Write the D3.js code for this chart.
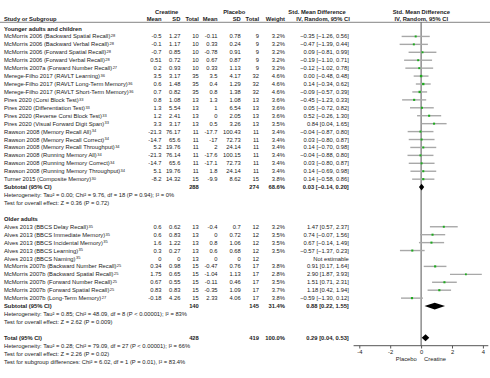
<!DOCTYPE html>
<html><head><meta charset="utf-8">
<script src="https://cdn.jsdelivr.net/npm/d3@7"></script>
<style>
html,body{margin:0;padding:0;background:#fff;}
svg{display:block;font-family:"Liberation Sans",Arial,sans-serif;}
</style></head>
<body><svg id="c" width="490" height="378"></svg>
<script>
// ---- data ----
const groupLabels = ["Younger adults and children", "Older adults"];
const studyNames = [
 "McMorris 2006 (Backward Spatial Recall)","McMorris 2006 (Backward Verbal Recall)","McMorris 2006 (Forward Spatial Recall)","McMorris 2006 (Forward Verbal Recall)",
 "McMorris 2007a (Forward Number Recall)","Merege-Filho 2017 (RAVLT Learning)","Merege-Filho 2017 (RAVLT Long-Term Memory)","Merege-Filho 2017 (RAVLT Short-Term Memory)",
 "Pires 2020 (Corsi Block Test)","Pires 2020 (Differentiation Test)","Pires 2020 (Reverse Corsi Block Test)","Pires 2020 (Visual Forward Digit Span)",
 "Rawson 2008 (Memory Recall All)","Rawson 2008 (Memory Recall Correct)","Rawson 2008 (Memory Recall Throughput)","Rawson 2008 (Running Memory All)",
 "Rawson 2008 (Running Memory Correct)","Rawson 2008 (Running Memory Throughput)","Turner 2015 (Composite Memory)",
 "Alves 2013 (BBCS Delay Recall)","Alves 2013 (BBCS Immediate Memory)","Alves 2013 (BBCS Incidental Memory)","Alves 2013 (BBCS Learning)","Alves 2013 (BBCS Naming)",
 "McMorris 2007b (Backward Number Recall)","McMorris 2007b (Backward Spatial Recall)","McMorris 2007b (Forward Number Recall)","McMorris 2007b (Forward Spatial Recall)","McMorris 2007b (Long-Term Memory)"
];
const refNums = ["28","28","28","28","27","36","36","36","33","33","33","33","34","34","34","34","34","34","30","35","35","35","35","35","25","25","25","25","27"];
const groupOf = [0,0,0,0,0,0,0,0,0,0,0,0,0,0,0,0,0,0,0,1,1,1,1,1,1,1,1,1,1];
const creMean = [-0.5,-0.1,-0.7,0.51,0.2,3.5,0.6,0.7,0.8,1.3,1.2,3.3,-21.3,-14.7,5.2,-21.3,-14.7,5.1,-8.2,0.6,0.6,1.6,0.3,0,0.34,1.75,0.67,0.83,-0.18];
const creSD   = [1.27,1.17,0.85,0.72,0.93,3.17,1.48,0.82,1.08,5.54,2.41,3.17,76.17,65.6,19.76,76.14,65.6,19.76,14.32,0.62,0.83,1.22,0.27,0,0.98,0.65,0.55,0.83,4.26];
const creN    = [10,10,10,10,10,35,35,35,13,13,13,13,11,11,11,11,11,11,15,13,13,13,13,13,15,15,15,15,15];
const plaMean = [-0.11,0.33,-0.78,0.67,0.33,3.5,0.4,0.8,1.3,1,0,0.5,-17.7,-17,2,-17.6,-17.1,1.8,-9.9,-0.4,0,0.8,0.6,0,-0.47,-1.04,-0.11,-0.35,2.33];
const plaSD   = [0.78,0.24,0.91,0.87,1.13,4.17,1.29,1.38,1.08,6.54,2.05,3.26,100.43,72.73,24.14,100.15,72.73,24.14,8.62,0.7,0.72,1.06,0.68,0,0.76,1.13,0.46,1.09,4.06];
const plaN    = [9,9,9,9,9,32,32,32,13,13,13,13,11,11,11,11,11,11,15,12,12,12,12,12,17,17,17,17,17];
const weightPct = [3.2,3.2,3.2,3.2,3.2,4.6,4.6,4.6,3.6,3.6,3.6,3.5,3.4,3.4,3.4,3.4,3.4,3.4,3.8,3.2,3.5,3.5,3.5,null,3.8,2.8,3.5,3.7,3.8];
const smd  = [-0.35,-0.47,0.09,-0.19,-0.12,0.00,0.14,-0.09,-0.45,0.05,0.52,0.84,-0.04,0.03,0.14,-0.04,0.03,0.14,0.14,1.47,0.74,0.67,-0.57,null,0.91,2.90,1.51,1.18,-0.59];
const ciLo = [-1.26,-1.39,-0.81,-1.10,-1.02,-0.48,-0.34,-0.57,-1.23,-0.72,-0.26,0.04,-0.87,-0.80,-0.70,-0.88,-0.80,-0.69,-0.58,0.57,-0.07,-0.14,-1.37,null,0.17,1.87,0.71,0.42,-1.30];
const ciHi = [0.56,0.44,0.99,0.71,0.78,0.48,0.62,0.39,0.33,0.82,1.30,1.65,0.80,0.87,0.98,0.80,0.87,0.98,0.86,2.37,1.56,1.49,0.23,null,1.64,3.93,2.31,1.94,0.12];
// subtotals (per group) and total
const subCreN = [288,140], subPlaN = [274,145], subWeight = [68.6,31.4];
const subSmd = [0.03,0.88], subLo = [-0.14,0.22], subHi = [0.20,1.55];
const subHet = ["Heterogeneity: Tau\u00b2 = 0.00; Chi\u00b2 = 9.76, df = 18 (P = 0.94); I\u00b2 = 0%",
                "Heterogeneity: Tau\u00b2 = 0.85; Chi\u00b2 = 48.09, df = 8 (P < 0.00001); I\u00b2 = 83%"];
const subTest = ["Test for overall effect: Z = 0.36 (P = 0.72)","Test for overall effect: Z = 2.62 (P = 0.009)"];
const totalVals = {creN:428, plaN:419, weight:100.0, smd:0.29, lo:0.04, hi:0.53};
const totalNotes = ["Heterogeneity: Tau\u00b2 = 0.28; Chi\u00b2 = 79.09, df = 27 (P < 0.00001); I\u00b2 = 66%",
  "Test for overall effect: Z = 2.26 (P = 0.02)",
  "Test for subgroup differences: Chi\u00b2 = 6.02, df = 1 (P = 0.01), I\u00b2 = 83.4%"];
const xTicks = [-4,-2,0,2,4];
const axisLabels = ["Placebo","Creatine"];

// ---- layout ----
const svg = d3.select("#c");
const FS = 5.8, SUP = 4.0, ink = "#222";
const x = d3.scaleLinear().domain([-4,4]).range([359.3,482.9]);
const y = d3.scaleLinear().domain([0,42]).range([28.5,28.5+42*7.93]);
const col = {name:4, cMean:161.5, cSD:180.4, cN:198.8, pMean:217.6, pSD:240.8, pN:259, w:285, ci:348.8};

function txt(xp, yp, s, anchor, bold){
  return svg.append("text").attr("x",xp).attr("y",yp).attr("dy","0.35em")
    .attr("font-size",FS).attr("fill",ink).attr("text-anchor",anchor||"start")
    .attr("font-weight",bold?"bold":"normal").text(s);
}
const fmt2 = d3.format(".2f");
const ciStr = (m,l,h)=> fmt2(m)+" ["+fmt2(l)+", "+fmt2(h)+"]";

// headers
txt(166.7,11.6,"Creatine","middle",true);
txt(234.3,11.6,"Placebo","middle",true);
txt(317,11.6,"Std. Mean Difference","middle",true);
txt(421.3,11.6,"Std. Mean Difference","middle",true);
txt(col.name,19,"Study or Subgroup","start",true);
txt(col.cMean,19,"Mean","end",true); txt(col.cSD,19,"SD","end",true); txt(col.cN,19,"Total","end",true);
txt(col.pMean,19,"Mean","end",true); txt(col.pSD,19,"SD","end",true); txt(col.pN,19,"Total","end",true);
txt(col.w,19,"Weight","end",true);
txt(323,19,"IV, Random, 95% CI","middle",true);
txt(421.3,19,"IV, Random, 95% CI","middle",true);
svg.append("line").attr("x1",0).attr("x2",490).attr("y1",22.3).attr("y2",22.3)
  .attr("stroke","#666").attr("stroke-width",0.8);

const groupStart = [0,24];
const axisY = 345.7;

// zero line
svg.append("line").attr("x1",x(0)).attr("x2",x(0)).attr("y1",22.3).attr("y2",axisY)
  .attr("stroke","#555").attr("stroke-width",1);

function diamond(r, m, l, h){
  const yc = y(r), hh = 3.4;
  svg.append("path").attr("fill","#000")
    .attr("d",`M${x(l)},${yc}L${x(m)},${yc-hh}L${x(h)},${yc}L${x(m)},${yc+hh}Z`);
}

[0,1].forEach(g=>{
  let r = groupStart[g];
  txt(col.name, y(r), groupLabels[g], "start", true);
  const idx = d3.range(studyNames.length).filter(i=>groupOf[i]===g);
  idx.forEach((i,k)=>{
    const rr = r+1+k, yy = y(rr);
    const t = txt(col.name, yy, studyNames[i]);
    t.append("tspan").attr("font-size",SUP).attr("dy","-0.3em").attr("dx",0.4).text(refNums[i]);
    txt(col.cMean,yy,String(creMean[i]),"end");
    txt(col.cSD,yy,String(creSD[i]),"end");
    txt(col.cN,yy,String(creN[i]),"end");
    txt(col.pMean,yy,String(plaMean[i]),"end");
    txt(col.pSD,yy,String(plaSD[i]),"end");
    txt(col.pN,yy,String(plaN[i]),"end");
    if (weightPct[i]!==null){
      txt(col.w,yy,weightPct[i].toFixed(1)+"%","end");
      txt(col.ci,yy,ciStr(smd[i],ciLo[i],ciHi[i]),"end");
      svg.append("line").attr("x1",x(ciLo[i])).attr("x2",x(ciHi[i])).attr("y1",yy).attr("y2",yy)
        .attr("stroke","#a8a8a8").attr("stroke-width",1.4);
      const s = Math.sqrt(weightPct[i])*1.1;
      svg.append("rect").attr("x",x(smd[i])-s/2).attr("y",yy-s/2).attr("width",s).attr("height",s)
        .attr("fill","#1eaa1e");
    } else {
      txt(col.ci,yy,"Not estimable","end");
    }
  });
  const rs = r+1+idx.length, ys = y(rs);
  txt(col.name, ys, "Subtotal (95% CI)", "start", true);
  txt(col.cN, ys, String(subCreN[g]), "end", true);
  txt(col.pN, ys, String(subPlaN[g]), "end", true);
  txt(col.w, ys, subWeight[g].toFixed(1)+"%", "end", true);
  txt(col.ci, ys, ciStr(subSmd[g],subLo[g],subHi[g]), "end", true);
  diamond(rs, subSmd[g], subLo[g], subHi[g]);
  txt(col.name, y(rs+1), subHet[g]);
  txt(col.name, y(rs+2), subTest[g]);
});

// total
const rt = 39, yt = y(rt);
txt(col.name, yt, "Total (95% CI)", "start", true);
txt(col.cN, yt, String(totalVals.creN), "end", true);
txt(col.pN, yt, String(totalVals.plaN), "end", true);
txt(col.w, yt, totalVals.weight.toFixed(1)+"%", "end", true);
txt(col.ci, yt, ciStr(totalVals.smd,totalVals.lo,totalVals.hi), "end", true);
diamond(rt, totalVals.smd, totalVals.lo, totalVals.hi);
totalNotes.forEach((s,k)=>txt(col.name, y(rt+1+k), s));

// axis
const ax = svg.append("g").attr("transform",`translate(0,${axisY})`)
  .call(d3.axisBottom(x).tickValues(xTicks).tickSize(2.8).tickSizeOuter(0).tickPadding(1.5).tickFormat(d=>String(d)));
ax.select(".domain").remove();
ax.selectAll(".tick line").attr("stroke","#555");
ax.selectAll(".tick text").attr("font-size",FS).attr("fill",ink).attr("font-family","Liberation Sans, Arial, sans-serif");
svg.append("line").attr("x1",x(-4.37)).attr("x2",x(4.35)).attr("y1",axisY).attr("y2",axisY)
  .attr("stroke","#555").attr("stroke-width",1);
txt(x(0)-4.3, 358.7, axisLabels[0], "end");
txt(x(0)+3, 358.7, axisLabels[1], "start");
</script></body></html>
